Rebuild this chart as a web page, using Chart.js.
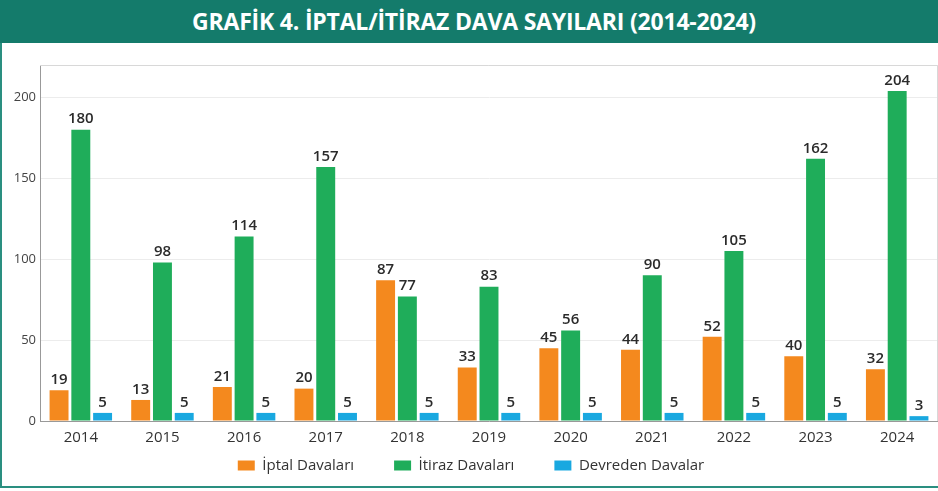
<!DOCTYPE html>
<html>
<head>
<meta charset="utf-8">
<script src="https://cdn.jsdelivr.net/npm/chart.js@4"></script>
<style>
  html, body { margin: 0; padding: 0; background: #fff; overflow: hidden; }
  #wrap { position: relative; width: 938px; height: 491px; }
  #band {
    position: absolute; left: 0; top: 0; width: 938px; height: 43px;
    background: #147b6b; color: #fff;
    font-family: "Open Sans", sans-serif; font-weight: 700; font-size: 23px;
    line-height: 43px; text-align: center; letter-spacing: -0.2px;
    text-indent: 10px;
  }
  #box {
    position: absolute; left: 0; top: 43px; width: 938px; height: 445px;
    border-left: 2px solid #2a8f80; border-bottom: 2px solid #2a8f80;
    box-sizing: border-box;
  }
  #myChart { position: absolute; left: 2px; top: 0; }
</style>
</head>
<body>
<div id="wrap">
  <div id="band">GRAFİK 4. İPTAL/İTİRAZ DAVA SAYILARI (2014-2024)</div>
  <div id="box"><canvas id="myChart" width="936" height="443"></canvas></div>
</div>
<script>
const years = ['2014','2015','2016','2017','2018','2019','2020','2021','2022','2023','2024'];
const iptal = [19, 13, 21, 20, 87, 33, 45, 44, 52, 40, 32];
const itiraz = [180, 98, 114, 157, 77, 83, 56, 90, 105, 162, 204];
const devreden = [5, 5, 5, 5, 5, 5, 5, 5, 5, 5, 3];

const FONT = '"Open Sans", sans-serif';
const LEGEND_SHIFT = 37;

// values above bars
const barLabels = {
  id: 'barLabels',
  afterDatasetsDraw(chart) {
    const ctx = chart.ctx;
    ctx.save();
    ctx.font = '600 15px ' + FONT;
    ctx.fillStyle = '#2b2b2b';
    ctx.textAlign = 'center';
    ctx.textBaseline = 'bottom';
    chart.data.datasets.forEach((ds, i) => {
      chart.getDatasetMeta(i).data.forEach((bar, j) => {
        ctx.fillText(ds.data[j], bar.x, bar.y - 3);
      });
    });
    ctx.restore();
  }
};

// light frame round the plot
const frame = {
  id: 'frame',
  beforeDatasetsDraw(chart) {
    const a = chart.chartArea;
    const ctx = chart.ctx;
    ctx.save();
    ctx.strokeStyle = '#d8d8d8';
    ctx.lineWidth = 1;
    ctx.beginPath();
    ctx.moveTo(a.left, a.top + 0.5);
    ctx.lineTo(a.right - 0.5, a.top + 0.5);
    ctx.lineTo(a.right - 0.5, a.bottom);
    ctx.stroke();
    ctx.restore();
  }
};

// wide gaps between legend items but a tight gap above them
const legendGap = {
  id: 'legendGap',
  beforeLayout(chart) {
    const lg = chart.legend;
    if (lg && !lg._patched) {
      const fit = lg.fit;
      lg.fit = function () { fit.call(this); this.height -= LEGEND_SHIFT; };
      lg._patched = true;
    }
  },
  afterLayout(chart) {
    const lg = chart.legend;
    if (lg) { lg.top -= LEGEND_SHIFT; lg.height += LEGEND_SHIFT; }
  }
};

const ctx = document.getElementById('myChart');
const myChart = new Chart(ctx, {
  type: 'bar',
  data: {
    labels: years,
    datasets: [
      { label: 'İptal Davaları', data: iptal, backgroundColor: '#f4891e' },
      { label: 'İtiraz Davaları', data: itiraz, backgroundColor: '#1fad5a' },
      { label: 'Devreden Davalar', data: devreden, backgroundColor: '#19a8e0' }
    ]
  },
  options: {
    responsive: false,
    animation: false,
    layout: { padding: { top: 22, right: 2, bottom: 3, left: 0 } },
    datasets: {
      bar: { categoryPercentage: 0.8, barPercentage: 0.87 }
    },
    plugins: {
      legend: {
        position: 'bottom',
        labels: {
          boxWidth: 17, boxHeight: 10, padding: 40,
          color: '#333', font: { family: FONT, size: 15 }
        }
      },
      tooltip: { enabled: false }
    },
    scales: {
      x: {
        grid: { display: false, drawTicks: false },
        border: { color: '#999' },
        ticks: { color: '#333', padding: 8, font: { family: FONT, size: 15 } }
      },
      y: {
        min: 0, max: 220,
        afterFit(axis) { axis.width = 36; },
        grid: { color: '#ececec', drawTicks: false },
        border: { color: '#999' },
        ticks: {
          stepSize: 50, padding: 4, color: '#444',
          font: { family: FONT, size: 13 },
          callback: v => (v % 50 === 0 ? v : '')
        }
      }
    }
  },
  plugins: [frame, barLabels, legendGap]
});
</script>
</body>
</html>
